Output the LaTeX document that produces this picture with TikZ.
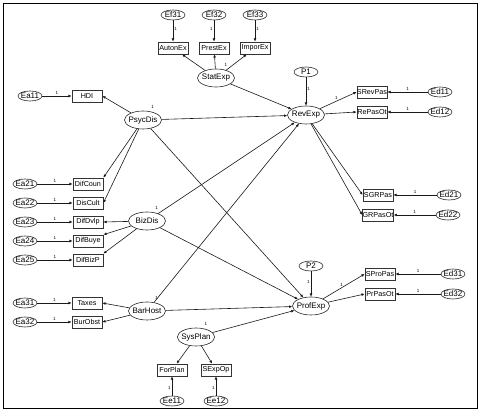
\documentclass[tikz,border=0pt]{standalone}
\usepackage{fontspec}
\setmainfont{Liberation Sans}
\usetikzlibrary{shapes.geometric,arrows.meta}

\begin{document}
\begin{tikzpicture}[x=1pt, y=-1pt]
  \tikzset{
    font={\fontsize{7.2pt}{8pt}\selectfont},
    latent/.style={ellipse, draw=black!85, line width=0.6pt, minimum width=37pt,
      minimum height=18pt, inner xsep=-1.5pt, inner ysep=0pt, font={\fontsize{8pt}{9pt}\selectfont}},
    error/.style={ellipse, draw=black!85, line width=0.6pt, minimum width=24pt,
      minimum height=10pt, inner xsep=-1.5pt, inner ysep=0pt, font={\fontsize{8pt}{9pt}\selectfont}},
    observed/.style={rectangle, draw=black!80, line width=0.7pt, minimum width=30pt,
      minimum height=12pt, inner sep=0pt},
    regress/.style={draw=black!90, line width=0.6pt, -{Latex[length=3.2pt,width=2.8pt]}},
    one/.style={font={\fontsize{4.5pt}{5pt}\selectfont}, inner sep=1pt},
    fixed/.style={label={[one,label distance=2pt]55:1}},
  }

  \useasboundingbox (0,0) rectangle (480,411);
  % frame
  \draw[line width=0.8pt] (3,3) rectangle (477,408);

  % latent variables
  \node[latent, fixed] (StatExp) at (216,78)  {StatExp};
  \node[latent, fixed] (PsycDis) at (143,120) {PsycDis};
  \node[latent, fixed] (BizDis)  at (147,221) {BizDis};
  \node[latent, fixed] (BarHost) at (147,311) {BarHost};
  \node[latent, fixed] (SysPlan) at (196,337) {SysPlan};
  \node[latent] (RevExp)  at (306,115) {RevExp};
  \node[latent] (ProfExp) at (311,306) {ProfExp};

  % disturbances
  \node[error] (P1) at (306,72)  {P1};
  \node[error] (P2) at (311,266) {P2};
  \draw[regress] (P1) -- (RevExp)  node[one, pos=.4, right] {1};
  \draw[regress] (P2) -- (ProfExp) node[one, pos=.4, left] {1};

  % indicators of StatExp
  \foreach \n/\x/\lab/\side in {1/173/AutonEx/right, 2/214/PrestEx/left, 3/255/ImporEx/right} {
    \node[observed] (\lab) at (\x,48) {\lab};
    \node[error] (Ef3\n) at (\x,15) {Ef3\n};
    \draw[regress] (Ef3\n) -- (\lab) node[one, pos=.4, \side] {1};
    \draw[regress] (StatExp) -- (\lab);
  }

  % indicator of PsycDis
  \node[observed] (HDI) at (87,96) {HDI};
  \node[error] (Ea11) at (30,96) {Ea11};
  \draw[regress] (Ea11) -- (HDI) node[one, midway, above] {1};
  \draw[regress] (PsycDis) -- (HDI.east);

  % indicators of PsycDis and BizDis
  \foreach \n/\y/\lab in {1/184/DifCoun, 2/203/DisCult, 3/222/DifDvlp, 4/241/DifBuye, 5/260/DifBizP} {
    \node[observed] (\lab) at (88,\y) {\lab};
    \node[error] (Ea2\n) at (25,\y) {Ea2\n};
    \draw[regress] (Ea2\n) -- (\lab) node[one, midway, above] {1};
  }
  \draw[regress] (PsycDis) -- (DifCoun.north east);
  \draw[regress] (PsycDis) -- (DisCult.east);
  \draw[regress] (BizDis) -- (DifDvlp.east);
  \draw[regress] (BizDis) -- (DifBuye.north east);
  \draw[regress] (BizDis) -- (DifBizP.north east);

  % indicators of BarHost
  \foreach \n/\y/\lab in {1/303/Taxes, 2/322/BurObst} {
    \node[observed] (\lab) at (87,\y) {\lab};
    \node[error] (Ea3\n) at (25,\y) {Ea3\n};
    \draw[regress] (Ea3\n) -- (\lab) node[one, midway, above] {1};
    \draw[regress] (BarHost) -- (\lab.east);
  }

  % indicators of SysPlan
  \foreach \n/\x/\lab in {1/172/ForPlan, 2/216/SExpOp} {
    \node[observed] (\lab) at (\x,370) {\lab};
    \node[error] (Ee1\n) at (\x,401) {Ee1\n};
    \draw[regress] (Ee1\n) -- (\lab) node[one, pos=.4, left] {1};
    \draw[regress] (SysPlan) -- (\lab);
  }

  % indicators of RevExp and ProfExp
  \foreach \lab/\err/\x/\y/\ex/\src in {SRevPas/Ed11/372/92/440/RevExp, RePasOt/Ed12/372/112/440/RevExp,
      SGRPas/Ed21/378/195/449/RevExp, GRPasOt/Ed22/378/215/448/RevExp,
      SProPas/Ed31/380/274/453/ProfExp, PrPasOt/Ed32/380/294/453/ProfExp} {
    \node[observed] (\lab) at (\x,\y) {\lab};
    \node[error] (\err) at (\ex,\y) {\err};
    \draw[regress] (\err) -- (\lab) node[one, midway, above] {1};
    \draw[regress] (\src) -- (\lab.west);
  }
  \path (RevExp) -- (SRevPas.west) node[one, pos=.45, above] {1};
  \path (ProfExp) -- (SProPas.west) node[one, pos=.45, above] {1};

  % structural paths
  \draw[regress] (StatExp) -- (RevExp);
  \draw[regress] (PsycDis) -- (RevExp);
  \draw[regress] (PsycDis) -- (ProfExp);
  \draw[regress] (BizDis) -- (RevExp);
  \draw[regress] (BizDis) -- (ProfExp);
  \draw[regress] (BarHost) -- (RevExp);
  \draw[regress] (BarHost) -- (ProfExp);
  \draw[regress] (SysPlan) -- (ProfExp);
\end{tikzpicture}
\end{document}
